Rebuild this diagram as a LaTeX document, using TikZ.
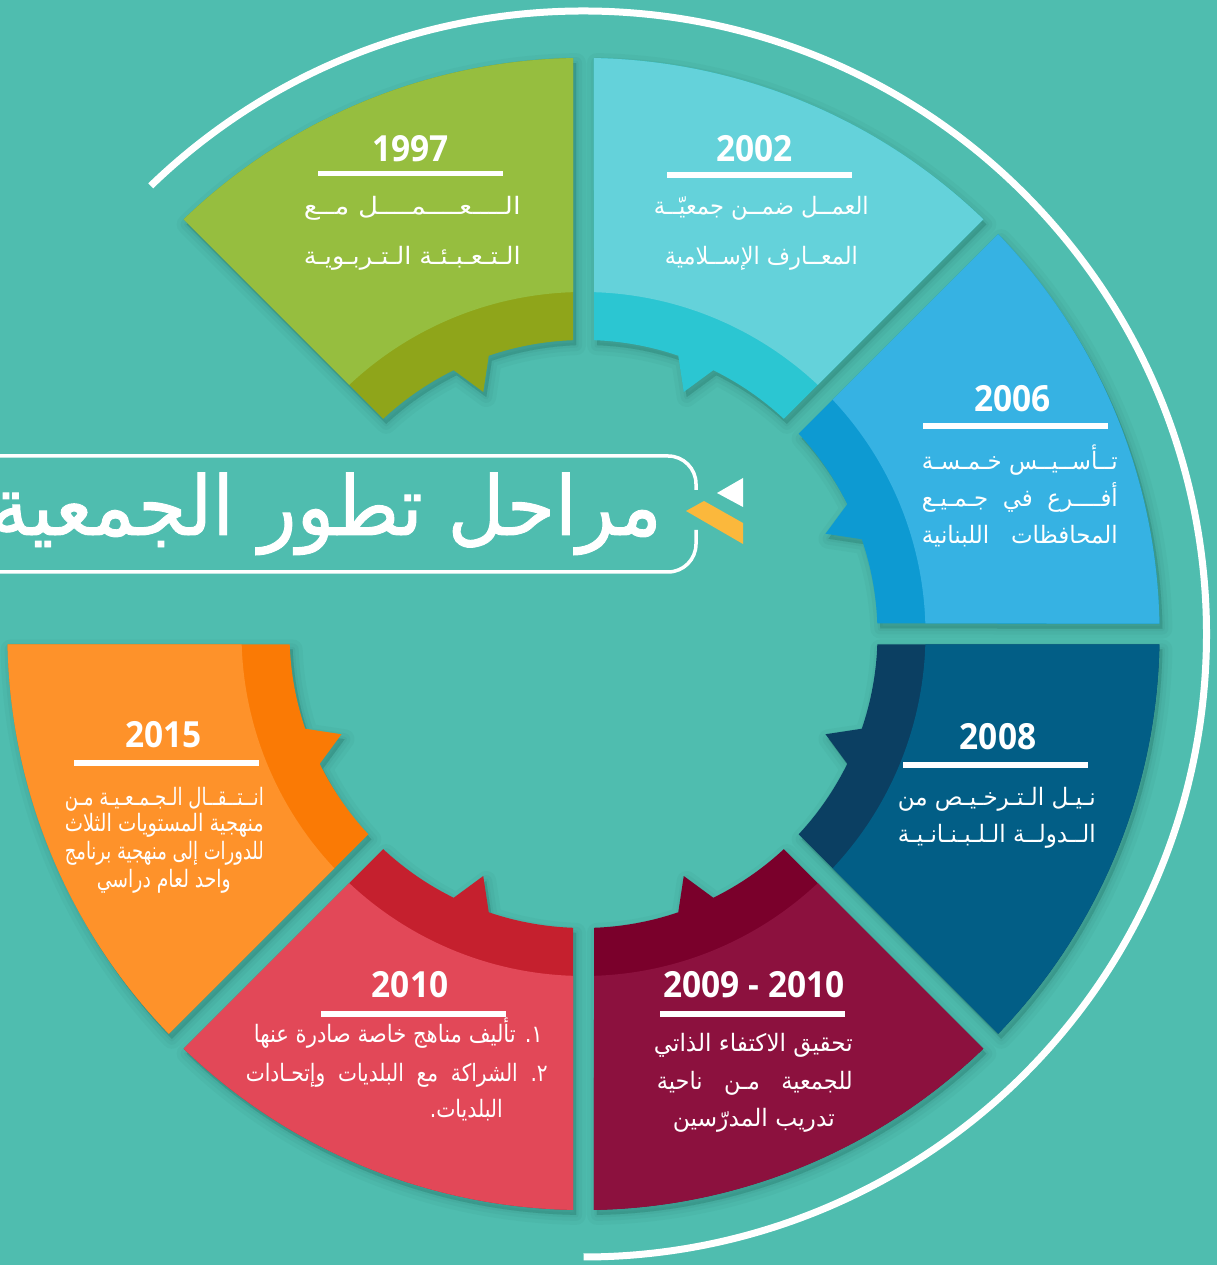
\documentclass[tikz,border=0pt]{standalone}
\usepackage{fontspec}
\usepackage{graphicx}
\TeXXeTstate=1
\newfontfamily\ar[Script=Arabic]{DejaVu Sans}
\newfontfamily\arT[Script=Arabic,FakeBold=1.2]{DejaVu Sans}
\newfontfamily\yr{Open Sans}
\definecolor{bg}{HTML}{4FBDAF}
\definecolor{shc}{HTML}{1F5F57}
\definecolor{gL}{HTML}{96BE3F}\definecolor{gD}{HTML}{8FA51A}
\definecolor{cL}{HTML}{64D2DA}\definecolor{cD}{HTML}{2BC6D2}
\definecolor{bL}{HTML}{36B2E3}\definecolor{bD}{HTML}{0D9AD2}
\definecolor{nL}{HTML}{025E86}\definecolor{nD}{HTML}{0B3F62}
\definecolor{mL}{HTML}{8C113E}\definecolor{mD}{HTML}{7A002B}
\definecolor{rL}{HTML}{E24858}\definecolor{rD}{HTML}{C5202E}
\definecolor{oL}{HTML}{FE922A}\definecolor{oD}{HTML}{FA7A05}
\definecolor{yel}{HTML}{FBB83C}
\def\Ro{576}\def\Rm{342}\def\Ri{294}\def\Rt{262}
\pgfmathsetmacro\dO{asin(10.5/576)}
\pgfmathsetmacro\dM{asin(10.5/342)}
\pgfmathsetmacro\dI{asin(10.5/294)}
\newcommand\segfull[2]{\path[#2] ({#1+\dO}:\Ro) arc[start angle={#1+\dO}, end angle={#1+45-\dO}, radius=\Ro] -- ({#1+45-\dI}:\Ri) arc[start angle={#1+45-\dI}, end angle={#1+22.5+3.7}, radius=\Ri] -- ({#1+22.5}:\Rt) -- ({#1+22.5-3.7}:\Ri) arc[start angle={#1+22.5-3.7}, end angle={#1+\dI}, radius=\Ri] -- cycle;}
\newcommand\seglight[2]{\path[#2] ({#1+\dO}:\Ro) arc[start angle={#1+\dO}, end angle={#1+45-\dO}, radius=\Ro] -- ({#1+45-\dM}:\Rm) arc[start angle={#1+45-\dM}, end angle={#1+\dM}, radius=\Rm] -- cycle;}
\newcommand\ringseg[3]{\segfull{#1}{fill=#3}\seglight{#1}{fill=#2}}
\newcommand\fitw[2]{\resizebox{#1pt}{\height}{\ar #2}}
\tikzset{
  txt/.style={inner sep=0pt, text=white, anchor=base east, font=\fontsize{24}{28}\selectfont},
  yearsty/.style={inner sep=0pt, text=white, anchor=base, font=\yr\bfseries\fontsize{36}{40}\selectfont},
  bar/.style={fill=white}
}
\begin{document}
\begin{tikzpicture}[x=1pt,y=1pt]
\fill[bg] (0,0) rectangle (1217,1265);
\useasboundingbox (0,0) rectangle (1217,1265);
\clip (0,0) rectangle (1217,1265);
\begin{scope}[shift={(583.5,631)}]
  % soft shadows
  \foreach \a in {90,45,0,-45,-90,-135,180}{
    \foreach \w/\o in {20/0.05,12/0.06,5/0.07,0.1/0.08}{
      \segfull{\a}{fill=shc, draw=shc, line width=\w, line join=round, opacity=\o, shift={(3,-5)}}
    }
  }
  \ringseg{90}{gL}{gD}
  \ringseg{45}{cL}{cD}
  \ringseg{0}{bL}{bD}
  \ringseg{-45}{nL}{nD}
  \ringseg{-90}{mL}{mD}
  \ringseg{-135}{rL}{rD}
  \ringseg{180}{oL}{oD}
  \draw[white, line width=7] (134:623) arc[start angle=134, end angle=-90, radius=623];
\end{scope}
% title box
\draw[white, line width=3.5] (-5,809) -- (668,809) arc[start angle=90, end angle=0, radius=28] -- (696,775);
\draw[white, line width=3.5] (696,735) -- (696,721) arc[start angle=0, end angle=-90, radius=28] -- (-5,693);
\fill[white] (717,772) -- (743,787) -- (743,758) -- cycle;
\fill[yel] (686,754) -- (704,764) -- (743,742) -- (743,721) -- cycle;
\node[inner sep=0pt, text=white, anchor=base east, font=\arT\fontsize{82}{90}\selectfont] (title) at (662,730) {\resizebox{672pt}{\height}{\beginR مراحل تطور الجمعية\endR}};
% 1997
\node[yearsty] (y97) at (410.5,1103) {\scalebox{0.93}[1]{1997}};
\fill[bar] (318,1088.5) rectangle (503,1094);
\node[txt] (t97a) at (521,1050) {\fitw{217}{\beginR الــــعــــمــــل مــع\endR}};
\node[txt] (t97b) at (521,1000) {\fitw{217}{\beginR الـتـعـبـئـة الـتـربـويـة\endR}};
% 2002
\node[yearsty] (y02) at (754.5,1103) {\scalebox{0.93}[1]{2002}};
\fill[bar] (667,1087) rectangle (852,1092.5);
\node[txt] (t02a) at (869,1050) {\fitw{215}{\beginR العمــل ضمــن جمعيّــة\endR}};
\node[txt] (t02b) at (858,1000) {\fitw{193}{\beginR المعــارف الإســلامية\endR}};
% 2006
\node[yearsty] (y06) at (1012.5,853) {\scalebox{0.93}[1]{2006}};
\fill[bar] (923,836) rectangle (1108,841.5);
\node[txt] (t06a) at (1118,795) {\fitw{196}{\beginR تــأســيــس خـمـسـة\endR}};
\node[txt] (t06b) at (1118,758) {\fitw{196}{\beginR أفــــرع\ \ في\ \ جـمـيـع\endR}};
\node[txt] (t06c) at (1118,721) {\fitw{196}{\beginR المحافظات\ \ \ اللبنانية\endR}};
% 2008
\node[yearsty] (y08) at (998,515) {\scalebox{0.93}[1]{2008}};
\fill[bar] (903,497) rectangle (1088,502.5);
\node[txt] (t08a) at (1096,459) {\fitw{198}{\beginR نـيـل الـتـرخـيـص من\endR}};
\node[txt] (t08b) at (1096,422) {\fitw{198}{\beginR الــدولــة الـلـبـنـانـيـة\endR}};
% 2009 - 2010
\node[yearsty] (y09) at (754,267) {\scalebox{0.93}[1]{2009 - 2010}};
\fill[bar] (660,248) rectangle (845,253.5);
\node[txt] (t09a) at (853,213) {\fitw{199}{\beginR تحقيق الاكتفاء الذاتي\endR}};
\node[txt] (t09b) at (853,175) {\fitw{196}{\beginR للجمعية\ \ \ مـن\ \ \ ناحية\endR}};
\node[txt] (t09c) at (835,138) {\fitw{162}{\beginR تدريب المدرّسين\endR}};
% 2010
\node[yearsty] (y10) at (410,267) {\scalebox{0.93}[1]{2010}};
\fill[bar] (321,248) rectangle (506,253.5);
\node[txt] (t10a) at (543,222) {\fitw{289}{\beginR ١. تأليف مناهج خاصة صادرة عنها\endR}};
\node[txt] (t10b) at (548,183) {\fitw{302}{\beginR ٢.\ \ الشراكة\ \ مع\ \ البلديات\ \ وإتحـادات\endR}};
\node[txt] (t10c) at (503,147) {\fitw{73}{\beginR البلديات.\endR}};
% 2015
\node[yearsty] (y15) at (163.5,517) {\scalebox{0.93}[1]{2015}};
\fill[bar] (74,499) rectangle (259,505);
\node[txt] (t15a) at (264,459) {\fitw{199}{\beginR انــتــقــال الـجـمـعـيـة مـن\endR}};
\node[txt] (t15b) at (264,433) {\fitw{199}{\beginR منهجية\ المستويات الثلاث\endR}};
\node[txt] (t15c) at (264,405) {\fitw{199}{\beginR للدورات إلى منهجية برنامج\endR}};
\node[txt] (t15d) at (231,377) {\fitw{134}{\beginR واحد لعام دراسي\endR}};
\end{tikzpicture}
\end{document}
